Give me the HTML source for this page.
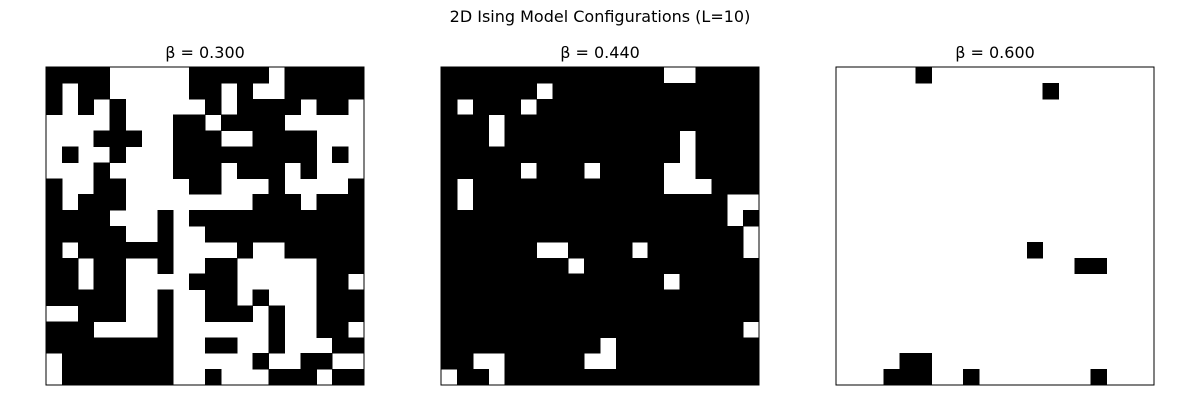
<!DOCTYPE html>
<html><head><meta charset="utf-8"><style>
body{margin:0;background:#fff;}
svg{display:block;font-family:"DejaVu Sans","Liberation Sans",sans-serif;}
</style></head><body>
<svg id="c" width="1200" height="400">
<text x="600" y="22" text-anchor="middle" font-size="16">2D Ising Model Configurations (L=10)</text>
</svg>
<script>
const betas = ["0.300","0.440","0.600"];
const grid1 = [
"11110000011111011111",
"10110000011010011111",
"10101000001011110110",
"00001000110111100000",
"00011100111001111000",
"01001000111111111010",
"00010000111011101000",
"10011000011000100001",
"10111000000001110111",
"11110001011111111111",
"11111001001111111111",
"10111111000010011111",
"11011001001100000111",
"11011000011100000110",
"11111001001101000111",
"00111001001110100111",
"11100001000000100110",
"11111111001100100011",
"01111111000001001100",
"01111111001000111011"];
const whites2 = [[0,14],[0,15],[1,6],[2,1],[2,5],[3,3],[4,3],[4,15],[5,15],[6,5],[6,9],[6,14],[6,15],[7,1],[7,14],[7,15],[7,16],[8,1],[8,18],[8,19],[9,18],[10,19],[11,6],[11,7],[11,12],[11,19],[12,8],[13,14],[16,19],[17,10],[18,2],[18,3],[18,9],[18,10],[19,0],[19,3]];
const blacks3 = [[0,5],[1,13],[11,12],[12,15],[12,16],[18,4],[18,5],[19,3],[19,4],[19,5],[19,8],[19,16]];

const N=20, panelSize=318, gridTop=67, lefts=[46,441,836], cs=panelSize/N;
const ns="http://www.w3.org/2000/svg", svgEl=document.getElementById('c');
function buildGrid(p){
  const g=[];
  for(let r=0;r<N;r++){g.push([]);for(let c=0;c<N;c++){
    if(p===0) g[r].push(grid1[r][c]==='1');
    else if(p===1) g[r].push(true);
    else g[r].push(false);
  }}
  if(p===1) whites2.forEach(([r,c])=>g[r][c]=false);
  if(p===2) blacks3.forEach(([r,c])=>g[r][c]=true);
  return g;
}
for(let p=0;p<3;p++){
  const x0=lefts[p];
  const t=document.createElementNS(ns,'text');
  
  
  t.setAttribute('x',x0+panelSize/2);t.setAttribute('y',58);
  t.setAttribute('text-anchor','middle');t.setAttribute('font-size','16');
  t.textContent='β = '+betas[p];svgEl.appendChild(t);
  const g=buildGrid(p);
  for(let r=0;r<N;r++)for(let c=0;c<N;c++){
    if(!g[r][c]) continue;
    const rc=document.createElementNS(ns,'rect');
    
    
    rc.setAttribute('x',x0+c*cs);rc.setAttribute('y',gridTop+r*cs);
    rc.setAttribute('width',cs+0.5);rc.setAttribute('height',cs+0.5);
    rc.setAttribute('shape-rendering','crispEdges');
    rc.setAttribute('fill','#000');svgEl.appendChild(rc);
  }
  const b=document.createElementNS(ns,'rect');
  
  
  b.setAttribute('x',x0);b.setAttribute('y',gridTop);
  b.setAttribute('width',panelSize);b.setAttribute('height',panelSize);
  b.setAttribute('fill','none');b.setAttribute('stroke','#000');b.setAttribute('stroke-width','1');
  svgEl.appendChild(b);
}
</script>
</body></html>
